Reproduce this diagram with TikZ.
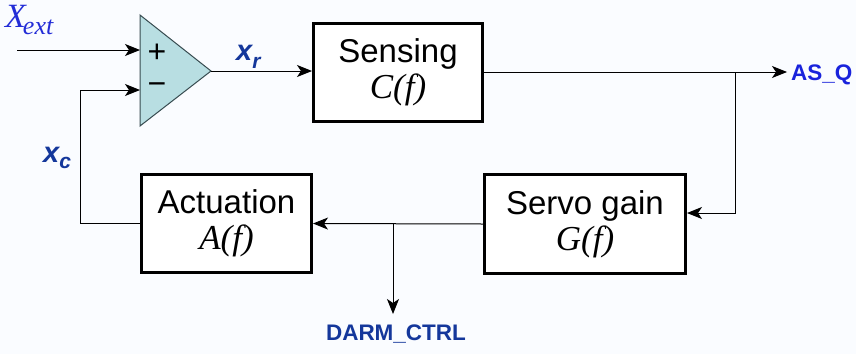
\documentclass[tikz,border=0pt]{standalone}
\usepackage{fontspec}
\setmainfont{Liberation Sans}
\newfontfamily\timesf{Liberation Serif}
\usetikzlibrary{arrows.meta}
\definecolor{bgc}{RGB}{250,252,255}
\definecolor{tri}{RGB}{184,222,226}
\definecolor{tristroke}{RGB}{55,75,80}
\definecolor{lblue}{RGB}{35,45,215}
\definecolor{dblue}{RGB}{20,55,155}
\definecolor{ablue}{RGB}{25,35,220}
\tikzset{
  blockbox/.style={draw=black, line width=3pt, fill=white, inner sep=0pt, align=center,
    font=\fontsize{33}{34}\selectfont},
  conn/.style={line width=1pt, -{Stealth[length=15pt,width=12pt,inset=4pt]}},
  sig/.style={inner sep=0pt, font=\fontsize{29}{29}\selectfont\bfseries\itshape, text=dblue},
  tag/.style={inner sep=0pt, font=\fontsize{22.5}{22.5}\selectfont\bfseries},
  sign/.style={inner sep=0pt, font=\fontsize{32}{32}\selectfont}
}
\begin{document}
\begin{tikzpicture}[x=1pt,y=-1pt]
\fill[bgc] (0,0) rectangle (856,354);
\useasboundingbox (0,0) rectangle (856,354);
% summing junction
\coordinate (tl) at (140,15);
\coordinate (bl) at (140,126);
\coordinate (tip) at (211,71);
\coordinate (inp) at (140,50);
\coordinate (inm) at (140,90);
\filldraw[fill=tri, draw=tristroke, line width=1pt, line join=miter] (tl) -- (tip) -- (bl) -- cycle;
\node[sign] (plus) at (157,53) {+};
\node[sign] (minus) at (157,89) {−};
% blocks
\node[blockbox, minimum width=169pt, minimum height=98pt] (sens) at (398,72.5)
  {Sensing\\[2pt]{\timesf\itshape\fontsize{35}{35}\selectfont C(f)}};
\node[blockbox, minimum width=201pt, minimum height=99pt] (servo) at (585,224)
  {Servo gain\\[2pt]{\timesf\itshape\fontsize{35}{35}\selectfont G(f)}};
\node[blockbox, minimum width=170pt, minimum height=98pt] (act) at (226.5,223.5)
  {Actuation\\[2pt]{\timesf\itshape\fontsize{35}{35}\selectfont A(f)}};
% labels
\node[inner sep=0pt, anchor=base west, text=lblue, font=\fontsize{34}{34}\selectfont\timesf\itshape] (xext) at (5,27)
  {X\kern-3pt\raisebox{-7pt}{\fontsize{26}{26}\selectfont ext}};
\node[sig, anchor=base west] (xr) at (236,60) {x\raisebox{-8pt}{\fontsize{21}{21}\selectfont r}};
\node[sig, anchor=base west] (xc) at (43,162) {x\raisebox{-6pt}{\fontsize{21}{21}\selectfont c}};
\node[tag, anchor=base west, text=ablue] (asq) at (791,80) {AS\_Q};
\node[tag, anchor=base, text=dblue] (darm) at (396,340) {DARM\_CTRL};
% connector points
\coordinate (xin) at (17,50);
\coordinate (asqend) at (787,72);
\coordinate (b1) at (735,72);
\coordinate (b2) at (393,223.5);
\coordinate (darmend) at (393,314);
\coordinate (c1) at (80,223.5);
% connectors
\draw[conn] (xin) -- (inp);
\draw[conn] (tip) -- (tip -| sens.west);
\draw[conn] (sens.east |- asqend) -- (asqend);
\draw[conn] (b1) |- ([yshift=11pt]servo.east);
\draw[conn] (servo.west) -- (act.east);
\draw[conn] (b2) -- (darmend);
\draw[conn] (act.west) -- (c1) |- (inm);
\end{tikzpicture}
\end{document}
